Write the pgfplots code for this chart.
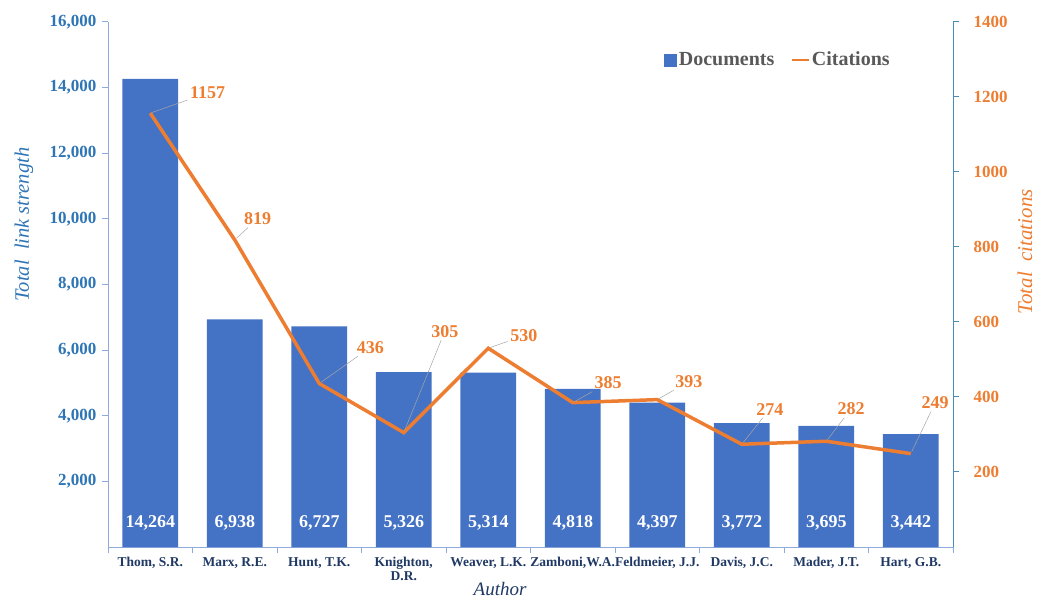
\documentclass[border=0pt]{standalone}
\usepackage{fontspec}
\setmainfont{Liberation Serif}
\usepackage{pgfplots}
\pgfplotsset{compat=1.18}
\usepackage{pgfplotstable}

\definecolor{barblue}{RGB}{68,114,196}
\definecolor{lineorange}{RGB}{237,125,49}
\definecolor{leftlab}{RGB}{46,117,182}
\definecolor{leftaxis}{RGB}{143,170,220}
\definecolor{rightaxis}{RGB}{70,140,180}
\definecolor{xlab}{RGB}{31,56,100}
\definecolor{legtext}{RGB}{89,89,89}

\pgfplotstableread{
x doc cit ang dist
0 14264 1157 17 37
1 6938 819 62 12
2 6727 436 38 42
3 5326 305 75 94
4 5314 530 11 18
5 4818 385 30 20
6 4397 393 31 16
7 3772 274 66 27
8 3695 282 70 23
9 3442 249 79 41
}\data

\begin{document}
\begin{tikzpicture}
\useasboundingbox (0pt,0pt) rectangle (1040pt,599pt);
\begin{axis}[
  at={(108pt,52pt)}, anchor=south west,
  scale only axis, width=845pt, height=525pt,
  xmin=-0.5, xmax=9.5, ymin=0, ymax=16000,
  axis y line*=left, axis x line*=bottom,
  axis line style={-, leftaxis, line width=1pt},
  clip=false,
  xtick={0,...,9},
  xticklabels={{Thom, S.R.},{Marx, R.E.},{Hunt, T.K.},{Knighton,\\D.R.},{Weaver, L.K.},{Zamboni,W.A.},{Feldmeier, J.J.},{Davis, J.C.},{Mader, J.T.},{Hart, G.B.}},
  major x tick style={draw=none},
  minor xtick={-0.5,0.5,...,9.5},
  minor x tick style={leftaxis, line width=1pt},
  minor tick length=6pt,
  major tick length=6pt,
  tick align=outside,
  ytick={2000,4000,...,16000},
  scaled y ticks=false,
  ytick style={leftaxis, line width=1pt},
  yticklabel={\pgfmathprintnumber[fixed, precision=0, 1000 sep={,}, assume math mode=true]{\tick}},
  /pgf/number format/1000 sep={,},
  /pgf/number format/assume math mode=true,
  yticklabel style={text=leftlab, font=\fontsize{17}{17}\selectfont\bfseries, xshift=-2pt},
  xticklabel style={text=xlab, font=\fontsize{13.5}{14}\selectfont\bfseries, align=center, yshift=-1pt},
  ylabel={Total\ \ link strength},
  every axis y label/.style={at={(rel axis cs:0,0.614)}, xshift=-84pt, rotate=90, anchor=center, text=leftlab, font=\fontsize{20.5}{21}\selectfont\itshape},
  xlabel={Author},
  every axis x label/.style={at={(rel axis cs:0.464,0)}, yshift=-42pt, anchor=center, text=xlab, font=\fontsize{19}{19}\selectfont\itshape},
]
\addplot[ybar, bar width=0.66, fill=barblue, draw=none] table[x=x, y=doc]{\data};
\addplot[draw=none, mark=none, nodes near coords, point meta=explicit,
  every node near coord/.append style={anchor=base, yshift=20pt, text=white, font=\fontsize{18}{18}\selectfont\bfseries}]
  table[x=x, y expr=0, meta=doc]{\data};
\end{axis}

\begin{axis}[
  at={(108pt,52pt)}, anchor=south west,
  scale only axis, width=845pt, height=525pt,
  xmin=-0.5, xmax=9.5, ymin=0, ymax=1400,
  axis y line*=right, axis x line=none,
  axis line style={-, rightaxis, line width=1pt},
  clip=false,
  ytick={200,400,...,1400},
  ytick style={rightaxis, line width=1pt},
  tick align=outside, major tick length=6pt,
  /pgf/number format/1000 sep={},
  /pgf/number format/assume math mode=true,
  yticklabel style={text=lineorange, font=\fontsize{17}{17}\selectfont\bfseries, xshift=11pt},
  ylabel={Total\ \ citations},
  every axis y label/.style={at={(rel axis cs:1,0.562)}, xshift=72pt, rotate=90, anchor=center, text=lineorange, font=\fontsize{21}{21}\selectfont\itshape},
  legend columns=2,
  legend style={draw=none, fill=none, at={(rel axis cs:0.793,0.928)}, anchor=center,
    font=\fontsize{20}{20}\selectfont\bfseries, text=legtext,
    /tikz/every even column/.append style={column sep=14pt},
    inner sep=0pt},
]
\addlegendimage{legend image code/.code={\fill[barblue] (0pt,-6pt) rectangle (12pt,6pt);}}
\addlegendentry{Documents}
\addlegendimage{legend image code/.code={\draw[lineorange, line width=2.5pt] (0pt,0pt) -- (17pt,0pt);}}
\addlegendentry{Citations}
\addplot[forget plot, lineorange, line width=3.5pt, mark=none,
  point meta=explicit symbolic,
  visualization depends on={\thisrow{ang}\as\pang},
  visualization depends on={\thisrow{dist}\as\pdist},
  nodes near coords={},
  every node near coord/.append style={inner sep=0pt, minimum size=0pt, anchor=center,
    pin={[pin distance=\pdist pt, pin edge={black!35, line width=0.5pt}, text=lineorange, inner sep=1pt,
      font=\fontsize{18}{18}\selectfont\bfseries]\pang:{\pgfplotspointmeta}}}]
  table[x=x, y=cit, meta=cit]{\data};
\end{axis}
\end{tikzpicture}
\end{document}
